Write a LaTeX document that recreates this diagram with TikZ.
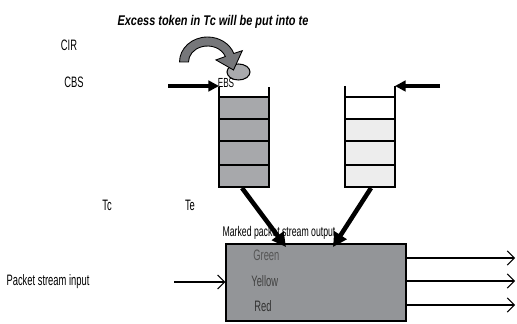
\documentclass[tikz,border=0pt]{standalone}
\usepackage{fontspec}
\setmainfont{Liberation Sans}[FakeStretch=0.62]
\newfontfamily\titlefont{Liberation Sans}[FakeStretch=0.78]
\usetikzlibrary{arrows.meta, positioning}
\definecolor{bucketdark}{HTML}{A7A8AB}
\definecolor{bucketlight}{HTML}{EDEDED}
\definecolor{meterfill}{HTML}{939598}
\definecolor{tokenfill}{HTML}{A9AAAD}
\definecolor{curlfill}{HTML}{76777A}
\definecolor{labelgray}{HTML}{404040}
\definecolor{greenlabel}{HTML}{555555}
\definecolor{redlabel}{HTML}{333333}

\tikzset{
  lbl/.style={font=\fontsize{8.6}{9}\selectfont, inner sep=0pt},
  colourlbl/.style={lbl, text=labelgray, anchor=west},
  wall/.style={line width=1.2pt},
  cellline/.style={line width=0.8pt},
  fillarrow/.style={line width=1.8pt, -{Triangle[length=6pt, width=6pt]}},
  fatarrow/.style={line width=2.6pt, -{Triangle[length=8pt, width=8pt]}},
  thinarrow/.style={line width=0.6pt, -{Straight Barb[length=4pt, width=8pt]}},
}

\begin{document}
\begin{tikzpicture}[x=0.02cm, y=-0.02cm]
  \useasboundingbox (0,0) rectangle (517,324);

  % Labels
  \node[lbl, font=\titlefont\fontsize{8}{9}\selectfont\bfseries\itshape] (title) at (213,22) {Excess token in Tc will be put into te};
  \node[lbl] (cir) at (69,45) {CIR};
  \node[lbl] (cbs) at (74,82) {CBS};
  \node[lbl] (tc) at (107,205) {Tc};
  \node[lbl] (te) at (190,205) {Te};
  \node[lbl] (input) at (48,282) {Packet stream input};

  % Token buckets
  \fill[bucketdark] (219,97) rectangle (269,187);
  \foreach \y in {97,119,141,165}
    \draw[cellline] (219,\y) -- (269,\y);
  \draw[wall] (219,87) -- (219,187) -- (269,187) -- (269,87);

  \fill[bucketlight] (345,119) rectangle (395,187);
  \foreach \y in {97,119,141,165}
    \draw[cellline] (345,\y) -- (395,\y);
  \draw[wall] (345,86) -- (345,187) -- (395,187) -- (395,86);

  \node[lbl, font=\fontsize{7.5}{8}\selectfont] (ebs) at (226,83) {EBS};

  % Overflow token
  \filldraw[fill=tokenfill, line width=0.6pt] (238.5,72) ellipse [x radius=11.5, y radius=8];

  % Curled arrow into the excess bucket
  \begin{scope}[shift={(207.5,62)}]
    \filldraw[fill=curlfill, line width=0.5pt]
      (180:28 and 25) arc[start angle=180, end angle=340, x radius=28, y radius=25]
      -- (340:37 and 33) -- (26,8) -- (340:9 and 6)
      -- (340:19 and 16) arc[start angle=340, end angle=180, x radius=19, y radius=16]
      -- cycle;
  \end{scope}

  % Meter
  \node[draw, fill=meterfill, line width=0.8pt, minimum width=3.6cm, minimum height=1.54cm, inner sep=0pt] (meter) at (316,282.5) {};
  \node[colourlbl, text=greenlabel] (green) at (253,255) {Green};
  \node[colourlbl] (yellow) at (251,281) {Yellow};
  \node[colourlbl, text=redlabel] (red) at (254,306) {Red};
  \node[lbl, font=\fontsize{8}{8}\selectfont] (marked) at (279,233) {Marked packet stream output};

  \coordinate (ltop) at (219,86);
  \coordinate (rtop) at (395,86);
  \coordinate (cbsin) at (168,86);
  \coordinate (ebsin) at (440,86);
  \coordinate (lbot) at (242,188);
  \coordinate (rbot) at (371,188);
  \coordinate (lin) at (286,247);
  \coordinate (rin) at (333,247);
  \coordinate (inarr) at (174,282);
  \coordinate (out1) at (515,258);
  \coordinate (out2) at (515,281);
  \coordinate (out3) at (515,305);

  % Connectors
  \draw[fillarrow] (cbsin) -- (ltop);
  \draw[fillarrow] (ebsin) -- (rtop);
  \draw[fatarrow] (lbot) -- (lin);
  \draw[fatarrow] (rbot) -- (rin);
  \draw[thinarrow] (inarr) -- (meter.west |- inarr);
  \foreach \o in {out1,out2,out3}
    \draw[thinarrow] (meter.east |- \o) -- (\o);
\end{tikzpicture}
\end{document}
